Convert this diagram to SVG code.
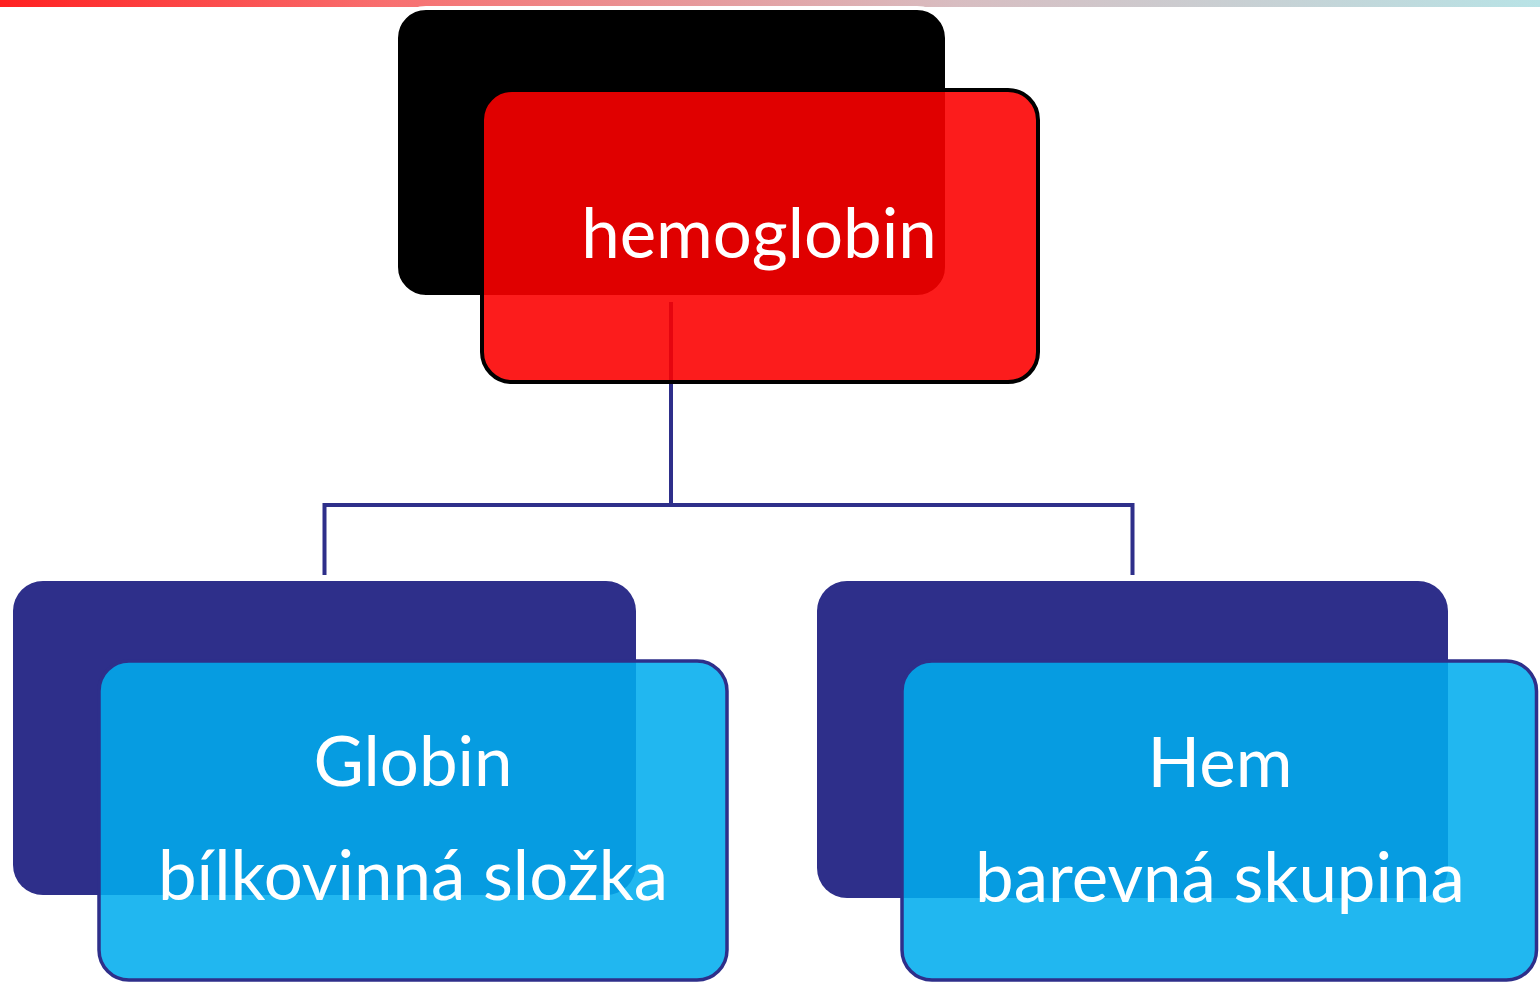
<svg xmlns="http://www.w3.org/2000/svg" width="1540" height="983" viewBox="0 0 1540 983">
  <defs>
    <linearGradient id="topbar" x1="0" y1="0" x2="1" y2="0">
      <stop offset="0" stop-color="#ff2020"/>
      <stop offset="0.25" stop-color="#f86f6f"/>
      <stop offset="0.62" stop-color="#d8bdc1"/>
      <stop offset="1" stop-color="#b8e3e6"/>
    </linearGradient>
    <style>
      .lbl { font-family: Lato, "Open Sans", "Liberation Sans", sans-serif; font-size: 69px; fill: #ffffff; text-anchor: middle; }
      .conn { fill: none; stroke: #2e2f8a; stroke-width: 4; stroke-linejoin: miter; }
      .backblue { fill: #2e2f8a; }
      .frontblue { fill: #00acee; fill-opacity: 0.87; stroke: #2e2f8a; stroke-width: 3.5; }
    </style>
  </defs>
  <rect x="0" y="0" width="1540" height="983" fill="#ffffff"/>
  <rect x="0" y="0" width="1540" height="7" fill="url(#topbar)"/>

  <g id="connectors">
    <path class="conn" d="M671,302 V505"/>
    <path class="conn" d="M324.5,575 V505 H1132.5 V575"/>
  </g>

  <g id="node-hemoglobin">
    <rect x="396" y="8" width="551" height="289" rx="30" ry="30" fill="#000000" stroke="#ffffff" stroke-width="4"/>
    <rect x="482" y="90" width="556" height="292" rx="30" ry="30" fill="#fc0000" fill-opacity="0.89" stroke="#000000" stroke-width="4"/>
    <text class="lbl" x="759" y="258">hemoglobin</text>
  </g>

  <g id="node-globin">
    <rect class="backblue" x="13" y="581" width="623" height="314" rx="30" ry="30"/>
    <rect class="frontblue" x="99" y="661" width="628" height="319" rx="30" ry="30"/>
    <text class="lbl" x="413" y="786">Globin</text>
    <text class="lbl" x="413" y="900">bílkovinná složka</text>
  </g>

  <g id="node-hem">
    <rect class="backblue" x="817" y="581" width="631" height="317" rx="30" ry="30"/>
    <rect class="frontblue" x="902" y="661" width="634.5" height="319" rx="30" ry="30"/>
    <text class="lbl" x="1220" y="787">Hem</text>
    <text class="lbl" x="1220" y="902">barevná skupina</text>
  </g>
</svg>
